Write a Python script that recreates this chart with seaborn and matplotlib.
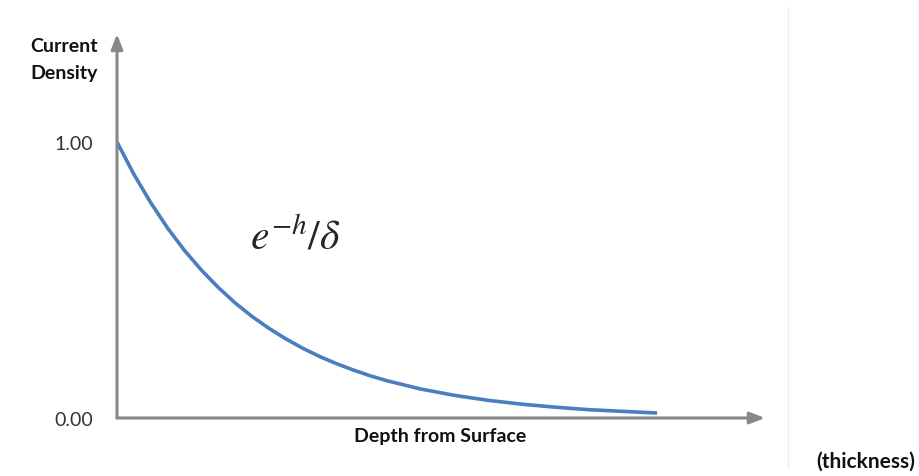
import numpy as np
import pandas as pd
import matplotlib
matplotlib.use("Agg")
import matplotlib.pyplot as plt
import seaborn as sns

# values (depth in units of delta)
depth = [0.0, 0.125, 0.25, 0.375, 0.5, 0.625, 0.75, 0.875, 1.0, 1.125,
         1.25, 1.375, 1.5, 1.625, 1.75, 1.875, 2.0, 2.25, 2.5, 2.75,
         3.0, 3.25, 3.5, 3.75, 4.0]
density = [1.00, 0.883, 0.78, 0.688, 0.607, 0.536, 0.473, 0.417, 0.368,
           0.325, 0.287, 0.253, 0.223, 0.197, 0.174, 0.153, 0.135, 0.105,
           0.082, 0.064, 0.050, 0.039, 0.030, 0.024, 0.018]
tick_vals = [0.0, 1.0]
tick_labels = ["0.00", "1.00"]

df = pd.DataFrame({"depth": depth, "density": density})

sns.set_style("white")
plt.rcParams["font.family"] = ["Lato", "DejaVu Sans"]
plt.rcParams["mathtext.fontset"] = "stix"

W, H = 920, 477
fig = plt.figure(figsize=(W / 100, H / 100), dpi=100)
ax = fig.add_axes([117 / W, 58 / H, (765 - 117) / W, (419 - 35) / H])

sns.lineplot(data=df, x="depth", y="density", ax=ax, color="#4a7ebf",
             linewidth=2.6, solid_capstyle="butt")

ax.set_xlim(0, (765 - 117) / 135)
ax.set_ylim(0, (419 - 35) / 276)
for s in ax.spines.values():
    s.set_visible(False)
ax.set_xticks([])
ax.set_yticks(tick_vals)
ax.set_yticklabels(tick_labels, fontsize=14, color="#333333")
ax.tick_params(axis="y", length=0, pad=17)
ax.set_xlabel("")
ax.set_ylabel("")

# axis arrows
arrow = dict(arrowstyle="-|>,head_length=0.9,head_width=0.35",
             color="#888888", lw=2.2, shrinkA=0, shrinkB=0)
ax.annotate("", xy=(1, 0), xytext=(0, 0), xycoords="axes fraction",
            arrowprops=arrow)
ax.annotate("", xy=(0, 1), xytext=(0, 0), xycoords="axes fraction",
            arrowprops=arrow)

# labels
lbl = dict(ha="center", va="center", fontsize=14, fontweight="bold",
           color="#111111")
fig.text(64 / W, 1 - 47 / H, "Current", **lbl)
fig.text(64 / W, 1 - 74 / H, "Density", **lbl)
fig.text(440 / W, 1 - 437 / H, "Depth from Surface", **lbl)
fig.text(866 / W, 1 - 462 / H, "(thickness)", ha="center", va="center",
         fontsize=15, fontweight="bold", color="#111111")

fig.text(250 / W, 1 - 250 / H, r"$e^{-h}/\delta$", ha="left",
         va="baseline", fontsize=30)

# faint divider on the right
fig.add_artist(plt.Line2D([788 / W, 788 / W], [1 - 8 / H, 1 - 470 / H],
                          transform=fig.transFigure, color="#eeeeee", lw=1))

fig.savefig("out.png", dpi=100)
